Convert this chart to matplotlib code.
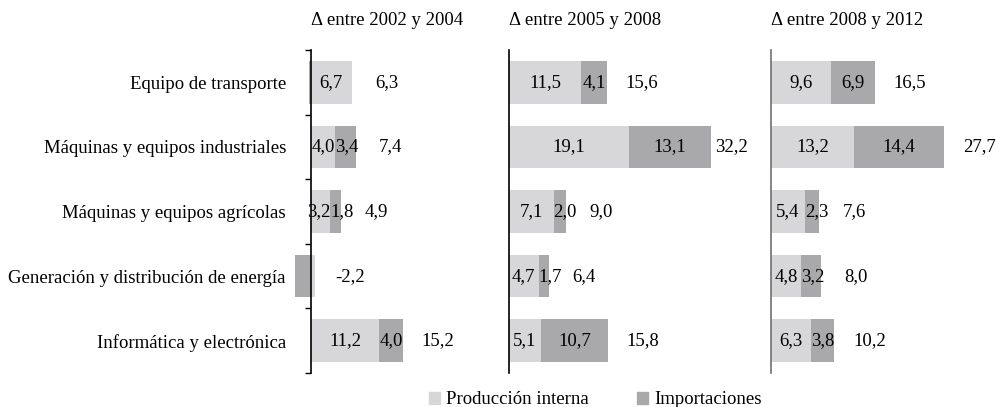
import matplotlib.pyplot as plt
from matplotlib.patches import Patch

plt.rcParams['font.family'] = ['Liberation Serif', 'DejaVu Serif']

categorias = ["Equipo de transporte", "Máquinas y equipos industriales",
              "Máquinas y equipos agrícolas", "Generación y distribución de energía",
              "Informática y electrónica"]
periodos = ["Δ entre 2002 y 2004", "Δ entre 2005 y 2008", "Δ entre 2008 y 2012"]

prod_02_04 = [6.7, 4.0, 3.2, 0.7, 11.2]
imp_02_04 = [-0.4, 3.4, 1.8, -2.7, 4.0]
tot_02_04 = [6.3, 7.4, 4.9, -2.2, 15.2]

prod_05_08 = [11.5, 19.1, 7.1, 4.7, 5.1]
imp_05_08 = [4.1, 13.1, 2.0, 1.7, 10.7]
tot_05_08 = [15.6, 32.2, 9.0, 6.4, 15.8]

prod_08_12 = [9.6, 13.2, 5.4, 4.8, 6.3]
imp_08_12 = [6.9, 14.4, 2.3, 3.2, 3.8]
tot_08_12 = [16.5, 27.7, 7.6, 8.0, 10.2]

series = [(prod_02_04, imp_02_04, tot_02_04),
          (prod_05_08, imp_05_08, tot_05_08),
          (prod_08_12, imp_08_12, tot_08_12)]

c_prod = '#d7d7d9'
c_imp = '#a9a9ac'
W, H = 996, 407
fs = 13.5

# linea de cero en px, px por unidad, xlim, color del eje
paneles = [(311, 6.07, (-3.4, 29.5), 'black'),
           (509, 6.28, (-1.4, 38.7), 'black'),
           (771, 6.28, (-1.4, 39.0), '#707070')]

fig = plt.figure(figsize=(W / 100, H / 100), dpi=100)
y_top, y_bot = 50, 373

def fmt(v):
    return f"{v:.1f}".replace('.', ',')

for k, ((x0, esc, (xmin, xmax), col), (prod, imp, tot)) in enumerate(zip(paneles, series)):
    left = x0 + xmin * esc
    width = (xmax - xmin) * esc
    ax = fig.add_axes([left / W, 1 - y_bot / H, width / W, (y_bot - y_top) / H])
    ax.set_xlim(xmin, xmax)
    ax.set_ylim(len(categorias) - 0.5, -0.5)
    y = list(range(len(categorias)))

    for i in y:
        p, m = prod[i], imp[i]
        ax.barh(i, p, left=0, height=0.66, color=c_prod)
        base = p if (m >= 0 and p >= 0) else 0
        ax.barh(i, m, left=base, height=0.66, color=c_imp)
        # etiquetas que no caben se pegan al limite entre segmentos
        if p >= 1:
            if p * esc < 24:
                ax.text(p, i, fmt(p), ha='right', va='center', fontsize=fs)
            else:
                ax.text(p / 2, i, fmt(p), ha='center', va='center', fontsize=fs)
        if m >= 1:
            if m * esc < 24:
                ax.text(base, i, fmt(m), ha='left', va='center', fontsize=fs)
            else:
                ax.text(base + m / 2, i, fmt(m), ha='center', va='center', fontsize=fs)
        ext = max(p, 0) + max(m, 0)
        off = min(35 / esc, (xmax - ext) / 2)
        ax.text(ext + off, i, fmt(tot[i]), ha='center', va='center', fontsize=fs)

    for s in ['top', 'right', 'bottom']:
        ax.spines[s].set_visible(False)
    ax.spines['left'].set_position(('data', 0))
    ax.spines['left'].set_color(col)
    ax.spines['left'].set_linewidth(1.2)
    ax.set_xticks([])
    if k == 0:
        ax.set_yticks(y)
        ax.set_yticklabels(categorias, fontsize=fs)
        ax.tick_params(axis='y', which='major', length=0, pad=18)
        ax.set_yticks([v - 0.5 for v in range(len(categorias) + 1)], minor=True)
        ax.tick_params(axis='y', which='minor', length=4, width=1, color=col)
    else:
        ax.set_yticks([])
    ax.annotate(periodos[k], xy=(0, 1), xycoords=('data', 'axes fraction'),
                xytext=(0, 21), textcoords='offset points',
                ha='left', va='center', fontsize=fs)

handles = [Patch(color=c_prod, label='Producción interna'),
           Patch(color=c_imp, label='Importaciones')]
fig.legend(handles=handles, loc='center', bbox_to_anchor=(595 / W, 1 - 400 / H),
           ncol=2, frameon=False, fontsize=fs, handlelength=0.6, handleheight=0.6,
           handletextpad=0.3, columnspacing=2.6, borderaxespad=0)

fig.savefig('out.png', dpi=100)
